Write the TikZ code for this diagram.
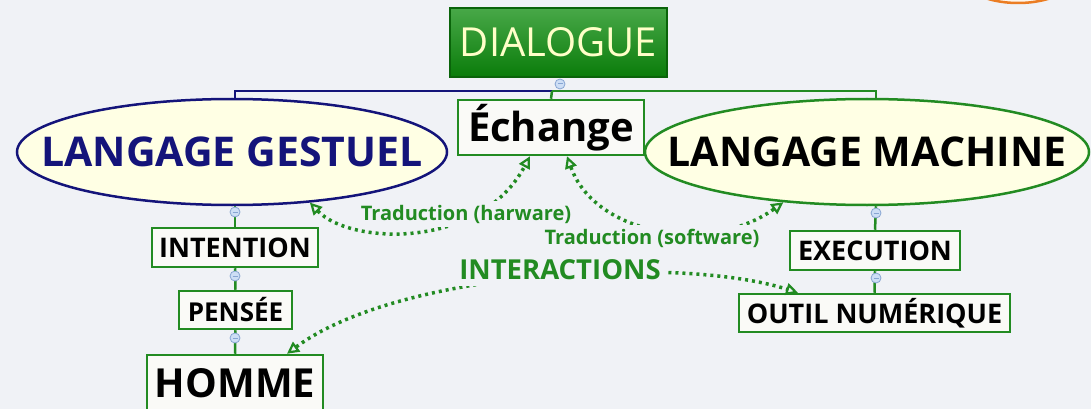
\documentclass[tikz,border=0pt]{standalone}
\usepackage{fontspec}
\setmainfont{Open Sans}
\usetikzlibrary{arrows.meta,shapes.geometric}
\definecolor{bg}{RGB}{240,242,246}
\definecolor{leaf}{RGB}{34,139,34}
\definecolor{navy}{RGB}{20,20,122}
\definecolor{cream}{RGB}{255,255,228}
\definecolor{paper}{RGB}{250,250,247}
\definecolor{knobfill}{RGB}{205,222,245}
\definecolor{knobline}{RGB}{135,165,210}
\definecolor{dlgtop}{RGB}{72,168,72}
\definecolor{dlgbot}{RGB}{10,124,10}
\definecolor{dlgtext}{RGB}{255,255,200}
\definecolor{orangeline}{RGB}{235,125,35}
\newcommand{\fsz}[1]{\fontsize{#1}{#1}\selectfont}
\begin{document}
\begin{tikzpicture}[x=1pt,y=-1pt,
 topic/.style={draw=leaf,line width=2.5pt,fill=paper,inner sep=0pt},
 oval/.style={ellipse,line width=2.5pt,fill=cream,inner sep=0pt,minimum height=106pt},
 knob/.style={circle,draw=knobline,fill=knobfill,line width=0.8pt,inner sep=0pt,minimum size=10pt},
 branch/.style={line width=2.5pt},
 rel/.style={leaf,line width=3.5pt,dash pattern=on 3pt off 4pt,<->,>={Triangle[open,length=12pt,width=12pt,line width=2.2pt]}},
 rellbl/.style={fill=bg,text=leaf,inner sep=4pt}]
\fill[bg] (0,0) rectangle (1091,409);
\clip (0,0) rectangle (1091,409);
\draw[orangeline,line width=2.5pt,fill={rgb,255:red,255;green,246;blue,235}] (1018,-32) ellipse [x radius=64,y radius=35];
% main topic and branches
\node[draw={rgb,255:red,10;green,100;blue,10},line width=1.5pt,top color=dlgtop,bottom color=dlgbot,minimum width=217pt,minimum height=69pt,inner sep=0pt,text=dlgtext,font=\fsz{40}] (dialogue) at (558.5,42.5) {DIALOGUE};
\node[oval,draw=navy,text=navy,minimum width=430pt,font=\bfseries\fsz{41}] (gestuel) at (232,152) {\makebox[0pt]{LANGAGE GESTUEL}};
\node[oval,draw=leaf,minimum width=444pt,font=\bfseries\fsz{41}] (machine) at (867,152) {\makebox[0pt]{LANGAGE MACHINE}};
\node[topic,minimum width=186pt,minimum height=55pt,font=\bfseries\fsz{40}] (echange) at (551,127.5) {Échange};
\node[topic,minimum width=166pt,minimum height=39pt,font=\bfseries\fsz{27}] (intention) at (235,247.5) {INTENTION};
\node[topic,minimum width=113pt,minimum height=38pt,font=\bfseries\fsz{26}] (pensee) at (235.5,310) {PENSÉE};
\node[topic,minimum width=176pt,minimum height=56pt,font=\bfseries\fsz{40}] (homme) at (235,383) {HOMME};
\node[topic,minimum width=170pt,minimum height=39pt,font=\bfseries\fsz{27}] (execution) at (875,250.5) {EXECUTION};
\node[topic,minimum width=271pt,minimum height=38pt,font=\bfseries\fsz{27}] (outil) at (874.5,313) {OUTIL NUMÉRIQUE};
\coordinate (hub) at (552,91);
\draw[branch,navy] (hub) -| ([xshift=3pt]gestuel.north);
\draw[branch,leaf] (hub) -| ([xshift=9pt]machine.north);
\draw[branch,leaf] (hub) -- (echange.north);
\draw[branch,leaf] ([xshift=3pt]gestuel.south) -- (intention.north);
\draw[branch,leaf] (intention.south) -- (pensee.north);
\draw[branch,leaf] (pensee.south) -- (homme.north);
\draw[branch,leaf] ([xshift=9pt]machine.south) -- (execution.north);
\draw[branch,leaf] (execution.south) -- (outil.north);
\foreach \x/\y [count=\k] in {560/84,235/212,235/276,235/338,876/213,876/278} {\node[knob] (knob\k) at (\x,\y) {}; \draw[knobline,line width=1pt] ([xshift=-2.5pt]knob\k.center) -- ([xshift=2.5pt]knob\k.center);}
% relationships
\draw[rel] (gestuel.-33) .. controls (350,245) and (480,250) .. ([xshift=-21pt]echange.south);
\draw[rel] ([xshift=16pt]echange.south) .. controls (595,235) and (710,255) .. (machine.211);
\draw[rel] ([xshift=52pt]homme.north) .. controls (400,270) and (680,255) .. ([xshift=-76.5pt]outil.north);
\node[rellbl,font=\bfseries\fsz{20}] (hwlbl) at (466,214) {Traduction (harware)};
\node[rellbl,font=\bfseries\fsz{20}] (swlbl) at (652,238) {Traduction (software)};
\node[rellbl,inner sep=6pt,font=\bfseries\fsz{27.5}] (interlbl) at (560,270) {INTERACTIONS};
\end{tikzpicture}
\end{document}
